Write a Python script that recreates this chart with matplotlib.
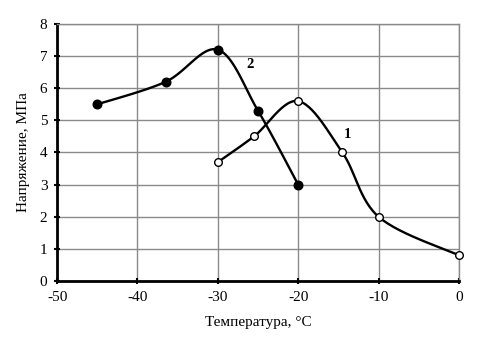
import numpy as np
import matplotlib.pyplot as plt

plt.rcParams['font.family'] = ['Liberation Serif', 'DejaVu Serif']
plt.rcParams['axes.unicode_minus'] = False

# curve 1 (open markers)
t1 = [-30, -25.5, -20, -14.5, -10, 0]
s1 = [3.7, 4.5, 5.6, 4.0, 2.0, 0.8]
# curve 2 (filled markers)
t2 = [-45, -36.5, -30, -25, -20]
s2 = [5.5, 6.2, 7.2, 5.3, 3.0]

xticks = [-50, -40, -30, -20, -10, 0]
yticks = [0, 1, 2, 3, 4, 5, 6, 7, 8]


def smooth(x, y, n=30):
    # bezier smoothing like a spreadsheet "smoothed line"
    p = np.column_stack([x, y]).astype(float)
    out = []
    for i in range(len(p) - 1):
        p0 = p[i - 1] if i > 0 else p[i]
        p3 = p[i + 2] if i + 2 < len(p) else p[i + 1]
        c1 = p[i] + (p[i + 1] - p0) / 6
        c2 = p[i + 1] - (p3 - p[i]) / 6
        t = np.linspace(0, 1, n)[:, None]
        seg = ((1 - t) ** 3 * p[i] + 3 * (1 - t) ** 2 * t * c1
               + 3 * (1 - t) * t ** 2 * c2 + t ** 3 * p[i + 1])
        out.append(seg if i == 0 else seg[1:])
    out = np.vstack(out)
    return out[:, 0], out[:, 1]


fig = plt.figure(figsize=(4.8, 3.53), dpi=100)
ax = fig.add_axes([0.119, 0.204, 0.837, 0.728])

ax.set_xlim(-50, 0)
ax.set_ylim(0, 8)
ax.set_xticks(xticks)
ax.set_yticks(yticks)
ax.grid(True, color='#8a8a8a', lw=1)
ax.set_axisbelow(True)

for t, s, fc in [(t1, s1, 'white'), (t2, s2, 'black')]:
    sx, sy = smooth(t, s)
    ax.plot(sx, sy, color='black', lw=1.7, zorder=3)
    ax.plot(t, s, 'o', ms=6.2 if fc == 'black' else 5.5, mfc=fc,
            mec='black', mew=1, zorder=4, clip_on=False)

ax.text(-26.0, 6.75, '2', fontsize=10.5, fontweight='bold', ha='center', va='center')
ax.text(-13.9, 4.55, '1', fontsize=10.5, fontweight='bold', ha='center', va='center')

for side in ['left', 'bottom']:
    ax.spines[side].set_linewidth(2)
    ax.spines[side].set_color('black')
for side in ['right', 'top']:
    ax.spines[side].set_linewidth(1)
    ax.spines[side].set_color('#8a8a8a')

ax.tick_params(direction='inout', length=4, width=1.5, labelsize=11, pad=5)
ax.set_xlabel('Температура, °C', fontsize=11, labelpad=9)
ax.set_ylabel('Напряжение, МПа', fontsize=11, labelpad=7)

plt.savefig('out.png', dpi=100)
